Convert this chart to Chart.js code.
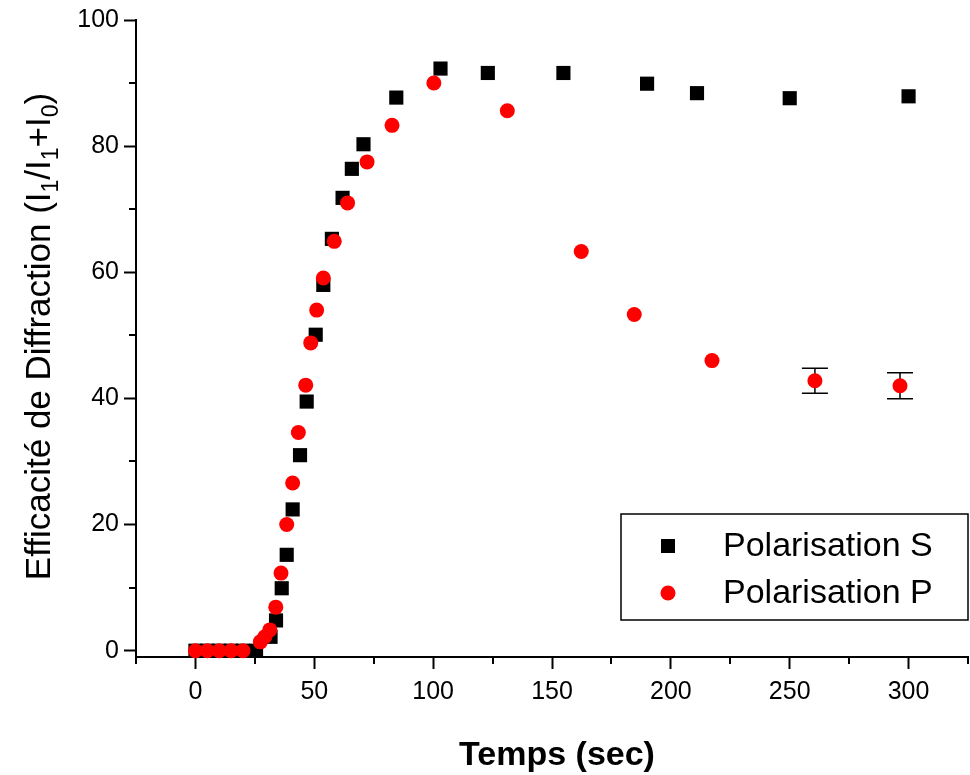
<!DOCTYPE html>
<html>
<head>
<meta charset="utf-8">
<script src="https://cdn.jsdelivr.net/npm/chart.js@4.4.1/dist/chart.umd.min.js"></script>
<style>
  html, body { margin: 0; padding: 0; background: #fff; }
</style>
</head>
<body>
<canvas id="chart" width="970" height="775"></canvas>
<script>
// data
const timeS = [0, 5, 10, 15, 20, 25.5, 31.6, 33.9, 36.3, 38.4, 40.9, 44, 46.8, 50.6, 53.8, 57.4, 61.9, 65.8, 70.7, 84.5, 103.1, 123, 154.8, 190, 211, 250, 300];
const effS  = [0, 0, 0, 0, 0, 0, 2.2, 4.8, 9.9, 15.2, 22.4, 31, 39.5, 50.1, 58, 65.3, 71.8, 76.4, 80.3, 87.7, 92.3, 91.6, 91.6, 89.9, 88.4, 87.6, 87.9];

const timeP = [0, 5, 10, 15, 20, 27.3, 29.2, 31.3, 33.8, 36, 38.4, 40.9, 43.3, 46.4, 48.5, 51, 53.8, 58.4, 64, 72.2, 82.7, 100.3, 131.2, 162.3, 184.6, 217.3, 260.6, 296.4];
const effP  = [0, 0, 0, 0, 0, 1.4, 2.2, 3.3, 6.9, 12.3, 20, 26.6, 34.6, 42.1, 48.8, 54, 59.1, 64.9, 71, 77.5, 83.3, 90, 85.6, 63.3, 53.3, 46, 42.8, 42];
const errP  = [0, 0, 0, 0, 0, 0, 0, 0, 0, 0, 0, 0, 0, 0, 0, 0, 0, 0, 0, 0, 0, 0, 0, 0, 0, 0, 2, 2.05];

const seriesNames = ['Polarisation S', 'Polarisation P'];
const xTicks = [-25, 0, 25, 50, 75, 100, 125, 150, 175, 200, 225, 250, 275, 300, 325];
const yTicks = [0, 10, 20, 30, 40, 50, 60, 70, 80, 90, 100];

const FONT = '"Liberation Sans", Arial, sans-serif';

const toPoints = (xs, ys) => xs.map((x, i) => ({ x: x, y: ys[i] }));

// minor ticks are shorter than the major ones
const minorTicks = {
    id: 'minorTicks',
    afterDraw(chart) {
        const ctx = chart.ctx;
        const xs = chart.scales.x, ys = chart.scales.y;
        const a = chart.chartArea;
        ctx.save();
        ctx.strokeStyle = '#000';
        ctx.lineWidth = 2;
        xTicks.forEach(v => {
            if (v % 50 === 0) return;
            const px = Math.round(xs.getPixelForValue(v));
            ctx.beginPath();
            ctx.moveTo(px, a.bottom);
            ctx.lineTo(px, a.bottom + 7);
            ctx.stroke();
        });
        yTicks.forEach(v => {
            if (v % 20 === 0) return;
            const py = Math.round(ys.getPixelForValue(v));
            ctx.beginPath();
            ctx.moveTo(a.left, py);
            ctx.lineTo(a.left - 7, py);
            ctx.stroke();
        });
        ctx.restore();
    }
};

// error bars on P, drawn under the markers
const errorBars = {
    id: 'errorBars',
    beforeDatasetsDraw(chart) {
        const ctx = chart.ctx;
        const xs = chart.scales.x, ys = chart.scales.y;
        ctx.save();
        ctx.strokeStyle = '#000';
        ctx.lineWidth = 1.5;
        errP.forEach((e, i) => {
            if (!e) return;
            const px = xs.getPixelForValue(timeP[i]);
            const top = ys.getPixelForValue(effP[i] + e);
            const bot = ys.getPixelForValue(effP[i] - e);
            ctx.beginPath();
            ctx.moveTo(px, top); ctx.lineTo(px, bot);
            ctx.moveTo(px - 13, top); ctx.lineTo(px + 13, top);
            ctx.moveTo(px - 13, bot); ctx.lineTo(px + 13, bot);
            ctx.stroke();
        });
        ctx.restore();
    }
};

// boxed legend and axis titles (y title has subscripts)
const decorations = {
    id: 'decorations',
    afterDraw(chart) {
        const ctx = chart.ctx;
        const a = chart.chartArea;
        ctx.save();

        // legend
        ctx.strokeStyle = '#000';
        ctx.lineWidth = 1.5;
        ctx.strokeRect(621, 514, a.right - 621, 106);
        ctx.fillStyle = '#000';
        ctx.fillRect(661, 539, 14, 14);
        ctx.fillStyle = '#ff0000';
        ctx.beginPath();
        ctx.arc(668, 593, 7.5, 0, Math.PI * 2);
        ctx.fill();
        ctx.fillStyle = '#000';
        ctx.font = '34px ' + FONT;
        ctx.textAlign = 'left';
        ctx.textBaseline = 'middle';
        ctx.fillText(seriesNames[0], 723, 547);
        ctx.fillText(seriesNames[1], 723, 594);

        // x title
        ctx.font = 'bold 34px ' + FONT;
        ctx.textAlign = 'center';
        ctx.fillText('Temps (sec)', (a.left + a.right) / 2 + 5, 756);

        // y title
        const parts = [
            ['Efficacité de Diffraction (I', false], ['1', true], ['/I', false], ['1', true],
            ['+I', false], ['0', true], [')', false]
        ];
        const big = '35px ' + FONT, small = '23px ' + FONT;
        let total = 0;
        parts.forEach(p => { ctx.font = p[1] ? small : big; total += ctx.measureText(p[0]).width; });
        ctx.translate(38, (a.top + a.bottom) / 2 - 2);
        ctx.rotate(-Math.PI / 2);
        ctx.textAlign = 'left';
        ctx.textBaseline = 'alphabetic';
        let cx = -total / 2;
        parts.forEach(p => {
            ctx.font = p[1] ? small : big;
            ctx.fillText(p[0], cx, p[1] ? 20 : 12);
            cx += ctx.measureText(p[0]).width;
        });
        ctx.restore();
    }
};

new Chart(document.getElementById('chart'), {
    type: 'scatter',
    data: {
        datasets: [
            {
                label: seriesNames[1],
                data: toPoints(timeP, effP),
                pointStyle: 'circle',
                pointRadius: 7.5,
                pointBorderWidth: 0,
                backgroundColor: '#ff0000',
                borderColor: '#ff0000',
                clip: false,
                order: 0
            },
            {
                label: seriesNames[0],
                data: toPoints(timeS, effS),
                pointStyle: 'rect',
                pointRadius: 10,
                pointBorderWidth: 0,
                backgroundColor: '#000',
                borderColor: '#000',
                clip: false,
                order: 1
            }
        ]
    },
    options: {
        responsive: false,
        animation: false,
        layout: { autoPadding: false, padding: { top: 20, right: 2, left: 0, bottom: 0 } },
        plugins: {
            legend: { display: false },
            tooltip: { enabled: false }
        },
        scales: {
            x: {
                type: 'linear',
                min: -25,
                max: 325,
                afterBuildTicks: s => { s.ticks = xTicks.map(v => ({ value: v })); },
                afterFit: s => { s.height = 118; s.paddingLeft = 0; s.paddingRight = 0; },
                border: { display: true, color: '#000', width: 2 },
                grid: {
                    drawOnChartArea: false,
                    drawTicks: true,
                    tickLength: 12,
                    tickWidth: 2,
                    tickColor: c => (c.tick && c.tick.value % 50 === 0) ? '#000' : 'rgba(0,0,0,0)'
                },
                ticks: {
                    autoSkip: false,
                    maxRotation: 0,
                    padding: 8,
                    color: '#000',
                    font: { family: FONT, size: 25 },
                    callback: v => (v % 50 === 0 ? String(v) : '')
                }
            },
            y: {
                type: 'linear',
                min: -1,
                max: 100,
                afterBuildTicks: s => { s.ticks = yTicks.map(v => ({ value: v })); },
                afterFit: s => { s.width = 136; },
                border: { display: true, color: '#000', width: 2 },
                grid: {
                    drawOnChartArea: false,
                    drawTicks: true,
                    tickLength: 12,
                    tickWidth: 2,
                    tickColor: c => (c.tick && c.tick.value % 20 === 0) ? '#000' : 'rgba(0,0,0,0)'
                },
                ticks: {
                    autoSkip: false,
                    padding: 5,
                    color: '#000',
                    font: { family: FONT, size: 25 },
                    callback: v => (v % 20 === 0 ? String(v) : '')
                }
            }
        }
    },
    plugins: [minorTicks, errorBars, decorations]
});
</script>
</body>
</html>
